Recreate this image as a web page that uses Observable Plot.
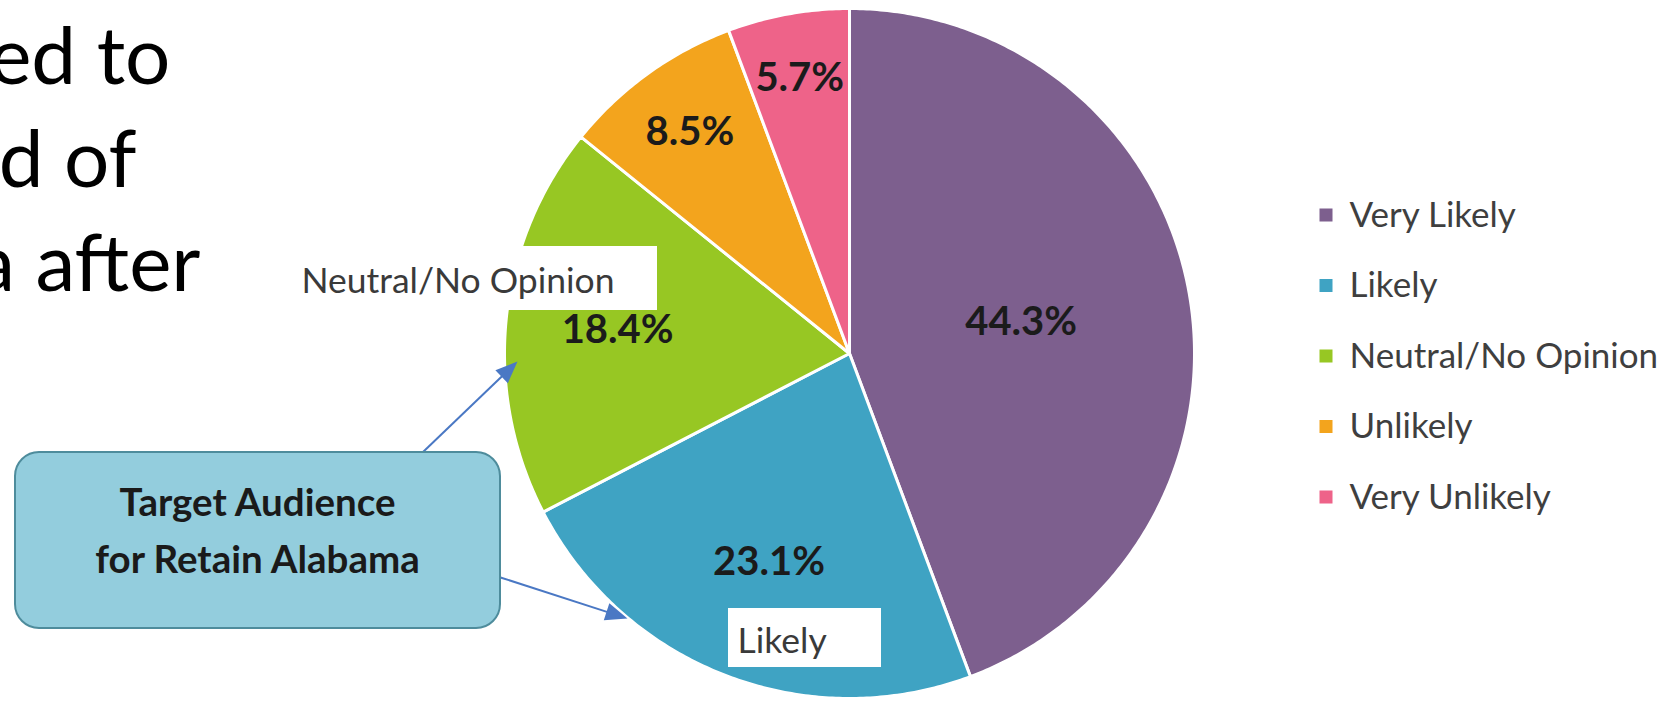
<!DOCTYPE html>
<html>
<head>
<meta charset="utf-8">
<script src="https://cdn.jsdelivr.net/npm/d3@7"></script>
<script src="https://cdn.jsdelivr.net/npm/@observablehq/plot@0.6"></script>
<style>
  html, body { margin: 0; padding: 0; background: #fff; overflow: hidden; }
  #chart { width: 1676px; height: 701px; }
</style>
</head>
<body>
<div id="chart"></div>
<script>
// ---- data ----
const categories = ["Very Likely", "Likely", "Neutral/No Opinion", "Unlikely", "Very Unlikely"];
const shares = [44.3, 23.1, 18.4, 8.5, 5.7];
const shareLabels = ["44.3%", "23.1%", "18.4%", "8.5%", "5.7%"];
const slideLines = ["ed to", "d of", "a after"];
const calloutLines = ["Target Audience", "for Retain Alabama"];
const calloutTargets = ["Neutral/No Opinion", "Likely"];

// ---- styles / layout ----
const sliceColors = ["#7d5f8e", "#3fa3c3", "#97c723", "#f3a41d", "#ee6389"];
const W = 1676, H = 701;
const pie = {cx: 849, cy: 353, r: 345};
const FONT = "Lato, 'Open Sans', sans-serif";

// slices from data through d3.pie (clockwise from 12 o'clock)
const arcs = d3.pie().sort(null).value(d => d.share)(
  categories.map((c, i) => ({category: c, share: shares[i], label: shareLabels[i]}))
);
const px = a => pie.cx + pie.r * Math.sin(a);
const py = a => pie.cy - pie.r * Math.cos(a);
const wedgePts = [];
for (const a of arcs) {
  wedgePts.push({category: a.data.category, x: pie.cx, y: pie.cy});
  const n = Math.max(2, Math.ceil((a.endAngle - a.startAngle) / 0.01));
  for (let k = 0; k <= n; k++) {
    const t = a.startAngle + (a.endAngle - a.startAngle) * k / n;
    wedgePts.push({category: a.data.category, x: px(t), y: py(t)});
  }
}
// value labels: large slices use the sector centroid, small slices pushed outward
const labelPts = arcs.map(a => {
  const mid = (a.startAngle + a.endAngle) / 2;
  const half = (a.endAngle - a.startAngle) / 2;
  const frac = a.data.share / 100;
  const centroidR = 2 * Math.sin(half) / (3 * half);
  const pushR = 0.85 - 0.7 * frac;
  const rr = pie.r * (frac > 0.15 ? (centroidR + pushR) / 2 : pushR);
  return {text: a.data.label, x: pie.cx + rr * Math.sin(mid), y: pie.cy - rr * Math.cos(mid)};
});

// legend
const legend = {x: 1326, y0: 215, dy: 70.5, size: 13, textX: 1349};

// callout box and arrows
const box = {x1: 15, x2: 500, y1: 452, y2: 628, rx: 24};
const arrows = [
  {id: "a1", x1: 422, y1: 452, x2: 517, y2: 361},
  {id: "a2", x1: 500, y1: 577, x2: 627, y2: 618}
];
const HEAD_L = 22, HEAD_W = 9;
const shafts = [], heads = [];
for (const ar of arrows) {
  const dx = ar.x2 - ar.x1, dy = ar.y2 - ar.y1, len = Math.hypot(dx, dy);
  const ux = dx / len, uy = dy / len;
  const bx = ar.x2 - ux * HEAD_L, by = ar.y2 - uy * HEAD_L;
  shafts.push({x1: ar.x1, y1: ar.y1, x2: bx + ux * 2, y2: by + uy * 2});
  heads.push({id: ar.id, x: ar.x2, y: ar.y2});
  heads.push({id: ar.id, x: bx - uy * HEAD_W, y: by + ux * HEAD_W});
  heads.push({id: ar.id, x: bx + uy * HEAD_W, y: by - ux * HEAD_W});
}
const tagBoxes = [
  {x1: 290, x2: 657, y1: 246, y2: 310},
  {x1: 728, x2: 881, y1: 608, y2: 667}
];
const tagText = [
  {text: calloutTargets[0], x: 301, y: 292},
  {text: calloutTargets[1], x: 737, y: 652}
];
const slideText = [
  {text: slideLines[0], x: 170, y: 83},
  {text: slideLines[1], x: 136, y: 186},
  {text: slideLines[2], x: 200, y: 290}
];
const calloutText = [
  {text: calloutLines[0], x: 257, y: 515},
  {text: calloutLines[1], x: 257, y: 572}
];

const chart = Plot.plot({
  width: W, height: H,
  margin: 0,
  x: {domain: [0, W], range: [0, W], axis: null},
  y: {domain: [0, H], range: [0, H], axis: null},
  color: {domain: categories, range: sliceColors},
  style: {fontFamily: FONT, background: "#fff"},
  marks: [
    // slide text clipped at left
    Plot.text(slideText, {x: "x", y: "y", text: "text", textAnchor: "end", lineAnchor: "bottom",
      fontSize: 80, fill: "#000", fontFamily: FONT}),
    // pie
    Plot.line(wedgePts, {x: "x", y: "y", z: "category", fill: "category", stroke: "#fff",
      strokeWidth: 3, strokeLinejoin: "round", curve: "linear-closed"}),
    // white tag boxes over the pie
    Plot.rect(tagBoxes, {x1: "x1", x2: "x2", y1: "y1", y2: "y2", fill: "#fff"}),
    Plot.text(tagText, {x: "x", y: "y", text: "text", textAnchor: "start", lineAnchor: "bottom",
      fontSize: 35.5, fill: "#3a3a3a", fontFamily: FONT}),
    // value labels
    Plot.text(labelPts, {x: "x", y: "y", text: "text", fontSize: 40, fontWeight: "bold",
      fill: "#1b1b1b", fontFamily: FONT}),
    // callout arrows
    Plot.link(shafts, {x1: "x1", y1: "y1", x2: "x2", y2: "y2", stroke: "#4a78c4", strokeWidth: 2}),
    Plot.line(heads, {x: "x", y: "y", z: "id", fill: "#4a78c4", stroke: "none", curve: "linear-closed"}),
    // callout box
    Plot.rect([box], {x1: "x1", x2: "x2", y1: "y1", y2: "y2", rx: box.rx, fill: "#93cddd",
      stroke: "#4e8c9c", strokeWidth: 2}),
    Plot.text(calloutText, {x: "x", y: "y", text: "text", textAnchor: "middle", lineAnchor: "bottom",
      fontSize: 38.5, fontWeight: "bold", fill: "#1a1a1a", fontFamily: FONT}),
    // legend
    Plot.rect(categories, {
      x1: legend.x - legend.size / 2, x2: legend.x + legend.size / 2,
      y1: (d, i) => legend.y0 + i * legend.dy - legend.size / 2,
      y2: (d, i) => legend.y0 + i * legend.dy + legend.size / 2,
      fill: d => d
    }),
    Plot.text(categories, {
      x: legend.textX, y: (d, i) => legend.y0 + i * legend.dy, text: d => d,
      textAnchor: "start", fontSize: 35, fill: "#3f3f3f", fontFamily: FONT
    })
  ]
});
document.getElementById("chart").appendChild(chart);
</script>
</body>
</html>
